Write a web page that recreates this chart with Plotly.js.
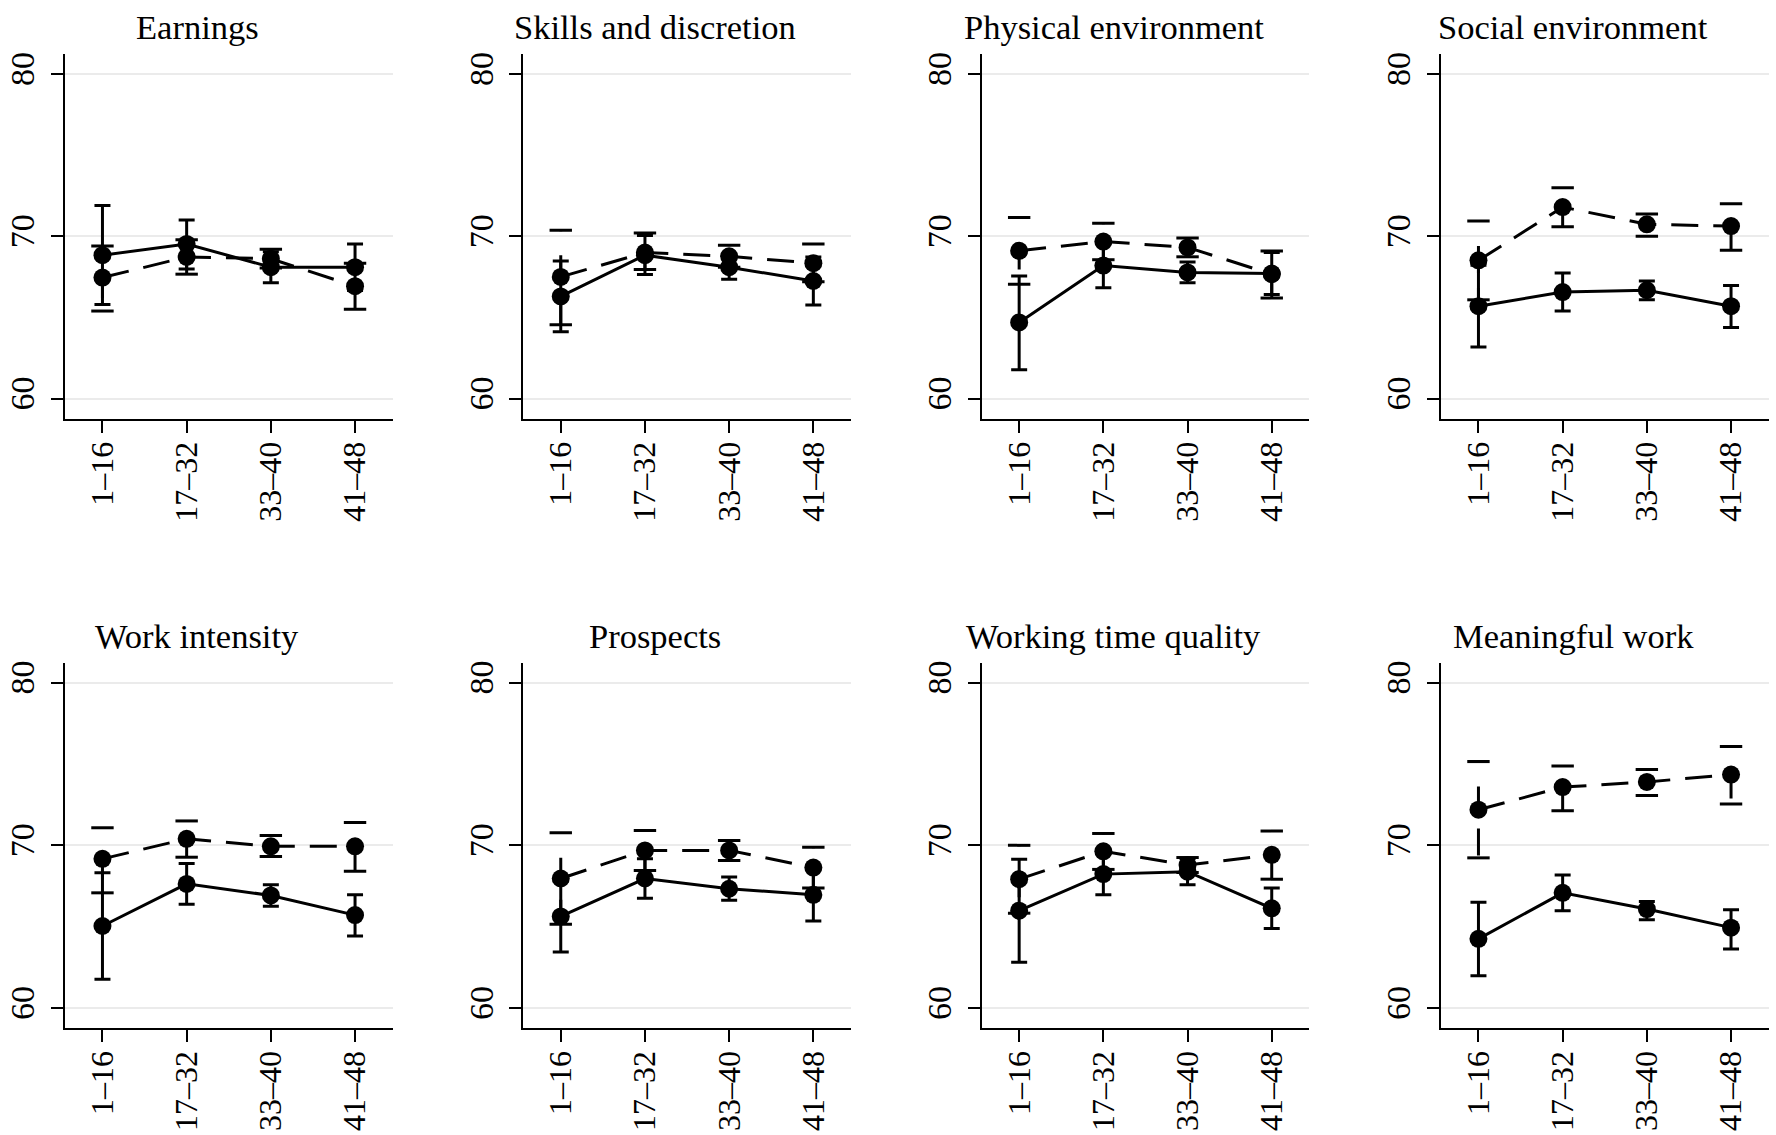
<!DOCTYPE html>
<html>
<head>
<meta charset="utf-8">
<script src="https://cdn.plot.ly/plotly-3.0.1.min.js"></script>
<style>html,body{margin:0;padding:0;background:#fff;}#chart{width:1776px;height:1135px;}</style>
</head>
<body>
<div id="chart"></div>
<script>
// ---------- DATA ----------
const categories = ["1–16", "17–32", "33–40", "41–48"];
const panelTitles = ["Earnings", "Skills and discretion", "Physical environment", "Social environment",
                     "Work intensity", "Prospects", "Working time quality", "Meaningful work"];

// Solid series (mean, lower CI, upper CI) and dashed series (mean, lower CI, upper CI)
const earningsSolid      = [68.84, 69.53, 68.10, 68.10];
const earningsSolidLow   = [65.80, 67.99, 67.14, 66.66];
const earningsSolidHigh  = [71.90, 71.00, 69.05, 69.53];
const earningsDashed     = [67.46, 68.73, 68.62, 66.93];
const earningsDashedLow  = [65.40, 67.67, 68.05, 65.51];
const earningsDashedHigh = [69.41, 69.79, 69.20, 68.35];

const skillsSolid      = [66.30, 68.84, 68.10, 67.25];
const skillsSolidLow   = [64.12, 67.65, 67.35, 65.77];
const skillsSolidHigh  = [68.48, 70.05, 68.85, 68.73];
const skillsDashed     = [67.50, 69.00, 68.77, 68.35];
const skillsDashedLow  = [64.55, 67.95, 68.10, 67.20];
const skillsDashedHigh = [70.38, 70.20, 69.45, 69.53];

const physicalSolid      = [64.70, 68.20, 67.78, 67.71];
const physicalSolidLow   = [61.79, 66.83, 67.14, 66.42];
const physicalSolidHigh  = [67.55, 69.57, 68.42, 69.00];
const physicalDashed     = [69.11, 69.68, 69.32, 67.67];
const physicalDashedLow  = [67.05, 68.56, 68.74, 66.20];
const physicalDashedHigh = [71.16, 70.80, 69.90, 69.10];

const socialSolid      = [65.70, 66.57, 66.68, 65.70];
const socialSolidLow   = [63.19, 65.40, 66.10, 64.39];
const socialSolidHigh  = [68.22, 67.74, 67.25, 66.97];
const socialDashed     = [68.52, 71.80, 70.74, 70.63];
const socialDashedLow  = [66.09, 70.59, 70.00, 69.15];
const socialDashedHigh = [70.95, 73.00, 71.38, 72.00];

const intensitySolid      = [65.04, 67.63, 66.92, 65.71];
const intensitySolidLow   = [61.77, 66.38, 66.25, 64.42];
const intensitySolidHigh  = [68.31, 68.88, 67.58, 66.96];
const intensityDashed     = [69.17, 70.40, 69.94, 69.94];
const intensityDashedLow  = [67.08, 69.27, 69.31, 68.40];
const intensityDashedHigh = [71.08, 71.50, 70.60, 71.40];

const prospectsSolid      = [65.63, 67.96, 67.33, 66.96];
const prospectsSolidLow   = [63.44, 66.75, 66.63, 65.35];
const prospectsSolidHigh  = [67.81, 69.17, 68.06, 68.56];
const prospectsDashed     = [67.96, 69.69, 69.69, 68.63];
const prospectsDashedLow  = [65.15, 68.46, 69.06, 67.38];
const prospectsDashedHigh = [70.77, 70.92, 70.29, 69.88];

const workingTimeSolid      = [65.98, 68.23, 68.38, 66.13];
const workingTimeSolidLow   = [62.81, 66.96, 67.58, 64.88];
const workingTimeSolidHigh  = [69.15, 69.50, 69.17, 67.38];
const workingTimeDashed     = [67.92, 69.63, 68.79, 69.42];
const workingTimeDashedLow  = [65.83, 68.52, 68.33, 67.92];
const workingTimeDashedHigh = [70.00, 70.73, 69.25, 70.88];

const meaningfulSolid      = [64.25, 67.08, 66.08, 64.94];
const meaningfulSolidLow   = [61.98, 65.98, 65.42, 63.63];
const meaningfulSolidHigh  = [66.50, 68.17, 66.54, 66.04];
const meaningfulDashed     = [72.19, 73.58, 73.90, 74.35];
const meaningfulDashedLow  = [69.23, 72.13, 73.06, 72.54];
const meaningfulDashedHigh = [75.15, 74.88, 74.67, 76.08];

const yTickValues = [60, 70, 80];

// ---------- BUILD ----------
const panels = [
  [earningsSolid, earningsSolidLow, earningsSolidHigh, earningsDashed, earningsDashedLow, earningsDashedHigh],
  [skillsSolid, skillsSolidLow, skillsSolidHigh, skillsDashed, skillsDashedLow, skillsDashedHigh],
  [physicalSolid, physicalSolidLow, physicalSolidHigh, physicalDashed, physicalDashedLow, physicalDashedHigh],
  [socialSolid, socialSolidLow, socialSolidHigh, socialDashed, socialDashedLow, socialDashedHigh],
  [intensitySolid, intensitySolidLow, intensitySolidHigh, intensityDashed, intensityDashedLow, intensityDashedHigh],
  [prospectsSolid, prospectsSolidLow, prospectsSolidHigh, prospectsDashed, prospectsDashedLow, prospectsDashedHigh],
  [workingTimeSolid, workingTimeSolidLow, workingTimeSolidHigh, workingTimeDashed, workingTimeDashedLow, workingTimeDashedHigh],
  [meaningfulSolid, meaningfulSolidLow, meaningfulSolidHigh, meaningfulDashed, meaningfulDashedLow, meaningfulDashedHigh]
];

const W = 1776, H = 1135;
const FONT = "Liberation Serif";
const colLeft = [65, 523.3, 981.7, 1441];
const plotW = 327.5;
const rowTop = [54, 662.7];
const rowBottom = [419, 1028.3];
const titleY = [27, 636];

const traces = [];
const layout = {
  width: W, height: H,
  margin: {l: 0, r: 0, t: 0, b: 0, pad: 0},
  paper_bgcolor: "#ffffff", plot_bgcolor: "#ffffff",
  showlegend: false,
  font: {family: FONT, color: "#000"},
  annotations: []
};

const LW = 3;
const dashedCIPattern = "1px,24px,27px,15px,27px,15px,27px,15px,27px,15px";

panels.forEach((p, i) => {
  const [sM, sL, sH, dM, dL, dH] = p;
  const k = i + 1;
  const xa = "x" + (k === 1 ? "" : k);
  const ya = "y" + (k === 1 ? "" : k);
  const row = Math.floor(i / 4), col = i % 4;

  // dashed-series CI spikes (dashed)
  const vx = [], vy = [];
  categories.forEach((c, j) => { vx.push(c, c, null); vy.push(dH[j], dL[j], null); });
  traces.push({x: vx, y: vy, xaxis: xa, yaxis: ya, mode: "lines", type: "scatter",
    line: {color: "#000", width: LW, dash: dashedCIPattern}, hoverinfo: "skip", connectgaps: false});
  // dashed-series CI caps
  traces.push({x: categories.concat(categories), y: dH.concat(dL), xaxis: xa, yaxis: ya,
    mode: "markers", type: "scatter",
    marker: {symbol: "line-ew", size: 16, line: {color: "#000", width: LW}}, hoverinfo: "skip"});
  // dashed series
  traces.push({x: categories, y: dM, xaxis: xa, yaxis: ya, mode: "lines+markers", type: "scatter",
    line: {color: "#000", width: LW, dash: "27px,15px"},
    marker: {color: "#000", size: 18}});
  // solid series with CI
  traces.push({x: categories, y: sM, xaxis: xa, yaxis: ya, mode: "lines+markers", type: "scatter",
    line: {color: "#000", width: LW},
    marker: {color: "#000", size: 18},
    error_y: {type: "data", symmetric: false,
      array: sH.map((v, j) => v - sM[j]), arrayminus: sM.map((v, j) => v - sL[j]),
      color: "#000", thickness: LW, width: 8}});

  const x0 = colLeft[col], x1 = x0 + plotW;
  layout["xaxis" + (k === 1 ? "" : k)] = {
    domain: [x0 / W, x1 / W], anchor: ya, type: "category",
    categoryorder: "array", categoryarray: categories,
    range: [-0.445, 3.445], tickangle: -90,
    ticks: "outside", ticklen: 12, tickwidth: 2, tickcolor: "#000",
    showline: true, linewidth: 2, linecolor: "#000",
    showgrid: false, zeroline: false, fixedrange: true,
    tickfont: {family: FONT, size: 32, color: "#000"}, ticklabelstandoff: -4
  };
  layout["yaxis" + (k === 1 ? "" : k)] = {
    domain: [1 - rowBottom[row] / H, 1 - rowTop[row] / H], anchor: xa,
    range: [58.75, 81.23], tickmode: "array", tickvals: yTickValues,
    ticktext: yTickValues.map(String), tickangle: -90,
    ticks: "outside", ticklen: 12, tickwidth: 2, tickcolor: "#000",
    showline: true, linewidth: 2, linecolor: "#000",
    showgrid: true, gridcolor: "#ebebeb", gridwidth: 2, zeroline: false, fixedrange: true,
    tickfont: {family: FONT, size: 34, color: "#000"}, ticklabelstandoff: 3
  };
  layout.annotations.push({
    text: panelTitles[i], xref: "paper", yref: "paper",
    x: (x0 + 132) / W, y: 1 - titleY[row] / H, xanchor: "center", yanchor: "middle",
    showarrow: false, font: {family: FONT, size: 34.5, color: "#000"}
  });
});

Plotly.newPlot("chart", traces, layout, {displayModeBar: false, staticPlot: true});
</script>
</body>
</html>
